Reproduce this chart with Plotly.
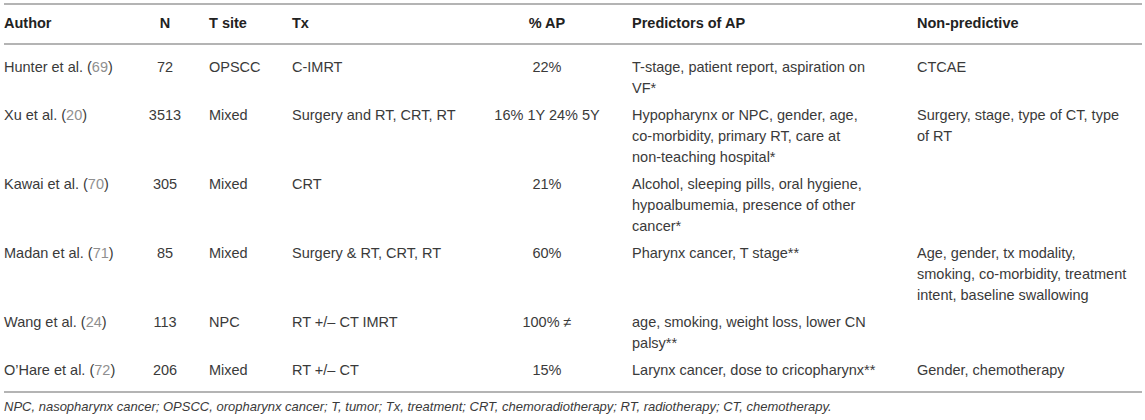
import plotly.graph_objects as go

# table content
headers = ["Author", "N", "T site", "Tx", "% AP", "Predictors of AP", "Non-predictive"]
authors = ["Hunter et al.", "Xu et al.", "Kawai et al.", "Madan et al.", "Wang et al.", "O’Hare et al."]
refs = [69, 20, 70, 71, 24, 72]
n_pts = [72, 3513, 305, 85, 113, 206]
sites = ["OPSCC", "Mixed", "Mixed", "Mixed", "NPC", "Mixed"]
tx = ["C-IMRT", "Surgery and RT, CRT, RT", "CRT", "Surgery & RT, CRT, RT",
      "RT +/– CT IMRT", "RT +/– CT"]
pct_ap = ["22%", "16% 1Y 24% 5Y", "21%", "60%", "100% ≠", "15%"]
predictors = [
    ["T-stage, patient report, aspiration on", "VF*"],
    ["Hypopharynx or NPC, gender, age,", "co-morbidity, primary RT, care at",
     "non-teaching hospital*"],
    ["Alcohol, sleeping pills, oral hygiene,", "hypoalbumemia, presence of other",
     "cancer*"],
    ["Pharynx cancer, T stage**"],
    ["age, smoking, weight loss, lower CN", "palsy**"],
    ["Larynx cancer, dose to cricopharynx**"],
]
non_predictive = [
    ["CTCAE"],
    ["Surgery, stage, type of CT, type", "of RT"],
    [],
    ["Age, gender, tx modality,", "smoking, co-morbidity, treatment",
     "intent, baseline swallowing"],
    [],
    ["Gender, chemotherapy"],
]
footnote = ("NPC, nasopharynx cancer; OPSCC, oropharynx cancer; T, tumor; Tx, treatment; "
            "CRT, chemoradiotherapy; RT, radiotherapy; CT, chemotherapy.")

# layout (pixels)
W, H = 1145, 420
FONT = "Liberation Sans, Arial, Helvetica, sans-serif"
TXT = "#3a3a3a"
REFC = "#8f8f8f"
LINEC = "#b4b4b4"
line_h = 21
row_gap = 6
first_y = 68
header_y = 24
col_x = [4, 165, 209, 292, 547, 632, 917]
col_pos = ["middle right", "middle center", "middle right", "middle right",
           "middle center", "middle right", "middle right"]

# row positions from the number of text lines in each row
row_y = []
y = first_y
for i in range(len(authors)):
    row_y.append(y)
    nl = max(1, len(predictors[i]), len(non_predictive[i]))
    y += nl * line_h + row_gap

cols = [
    [[f"{a} (<span style='color:{REFC}'>{r}</span>)"] for a, r in zip(authors, refs)],
    [[str(v)] for v in n_pts],
    [[s] for s in sites],
    [[t] for t in tx],
    [[p] for p in pct_ap],
    predictors,
    non_predictive,
]

fig = go.Figure()

# header
for hx, hp, h in zip(col_x, col_pos, headers):
    fig.add_trace(go.Scatter(
        x=[hx], y=[header_y], text=[f"<b>{h}</b>"], mode="text",
        textposition=hp, textfont=dict(family=FONT, size=14.5, color="#222222"),
        hoverinfo="skip", showlegend=False))

# body cells, one trace per column
for cx, cp, col in zip(col_x, col_pos, cols):
    xs, ys, ts = [], [], []
    for ry, lines in zip(row_y, col):
        for k, ln in enumerate(lines):
            xs.append(cx)
            ys.append(ry + k * line_h)
            ts.append(ln)
    fig.add_trace(go.Scatter(
        x=xs, y=ys, text=ts, mode="text", textposition=cp,
        textfont=dict(family=FONT, size=14.5, color=TXT),
        hoverinfo="skip", showlegend=False))

bottom_y = row_y[-1] + 21
fig.add_trace(go.Scatter(
    x=[4], y=[bottom_y + 16], text=[f"<i>{footnote}</i>"], mode="text",
    textposition="middle right", textfont=dict(family=FONT, size=13, color=TXT),
    hoverinfo="skip", showlegend=False))

# horizontal rules
for ly in [4, 44, bottom_y]:
    fig.add_shape(type="line", x0=4, x1=1142, y0=ly, y1=ly,
                  line=dict(color=LINEC, width=2))

fig.update_layout(
    width=W, height=H, margin=dict(l=0, r=0, t=0, b=0),
    paper_bgcolor="white", plot_bgcolor="white",
    xaxis=dict(range=[0, W], visible=False, fixedrange=True),
    yaxis=dict(range=[H, 0], visible=False, fixedrange=True),
)

fig.write_html("out.html", config={"displayModeBar": False},
               post_script="document.body.style.margin='0';")
